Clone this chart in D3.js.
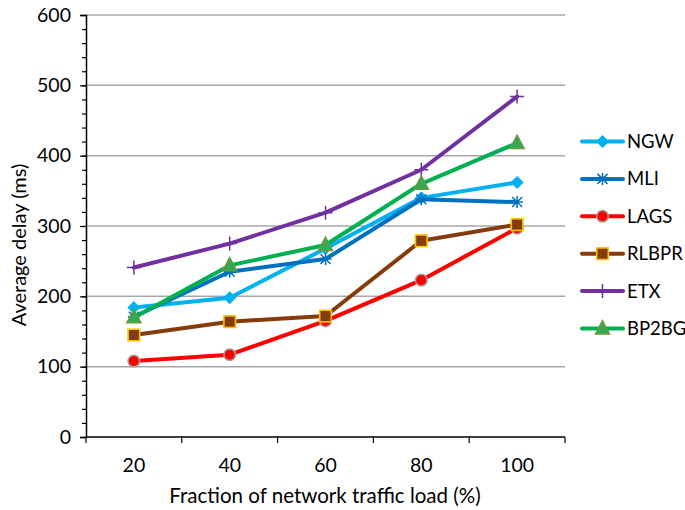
<!DOCTYPE html>
<html>
<head>
<meta charset="utf-8">
<script src="https://cdn.jsdelivr.net/npm/d3@7"></script>
<style>
  html, body { margin: 0; padding: 0; background: #fff; }
  svg text { font-family: Lato, "Open Sans", sans-serif; fill: #000; }
</style>
</head>
<body>
<svg id="chart" width="685" height="510"></svg>
<script>
// Traffic load categories (%)
const loads = ["20", "40", "60", "80", "100"];

// Average delay (ms) per routing scheme
const ngw   = [184, 198, 268, 340, 362];
const mli   = [171, 235, 253, 338, 334];
const lags  = [108, 117, 165, 223, 297];
const rlbpr = [145, 164, 172, 279, 302];
const etx   = [241, 275, 319, 380, 484];
const bp2bg = [170, 244, 273, 360, 418];

const yTicks = [0, 100, 200, 300, 400, 500, 600];

const series = [
  { name: "NGW",   values: ngw,   color: "#00B0F0", marker: "diamond" },
  { name: "MLI",   values: mli,   color: "#0070C0", marker: "asterisk" },
  { name: "LAGS",  values: lags,  color: "#FF0000", marker: "circle" },
  { name: "RLBPR", values: rlbpr, color: "#843C0C", marker: "square" },
  { name: "ETX",   values: etx,   color: "#7030A0", marker: "plus" },
  { name: "BP2BG", values: bp2bg, color: "#00B050", marker: "triangle" }
];

const svg = d3.select("#chart");
const plotLeft = 86, plotRight = 565, plotTop = 15, plotBottom = 437;

const x = d3.scaleBand().domain(loads).range([plotLeft, plotRight]).padding(0);
const y = d3.scaleLinear().domain([0, 600]).range([plotBottom, plotTop]);

// Horizontal gridlines
svg.append("g")
  .selectAll("line")
  .data(yTicks.filter(v => v > 0))
  .join("line")
  .attr("x1", plotLeft).attr("x2", plotRight)
  .attr("y1", d => y(d)).attr("y2", d => y(d))
  .attr("stroke", "#A6A6A6").attr("stroke-width", 1.5);

// Y axis with minor ticks every 20
const yMinor = d3.axisLeft(y).tickValues(d3.range(0, 601, 20)).tickSize(4).tickFormat("");
svg.append("g").attr("transform", `translate(${plotLeft},0)`).call(yMinor)
  .call(g => g.select(".domain").remove())
  .call(g => g.selectAll("line").attr("stroke", "#000").attr("stroke-width", 1.2));

const yAxis = d3.axisLeft(y).tickValues(yTicks).tickSize(6).tickPadding(9);
svg.append("g").attr("transform", `translate(${plotLeft},0)`).call(yAxis)
  .call(g => g.select(".domain").attr("stroke", "#000").attr("stroke-width", 1.5))
  .call(g => g.selectAll("line").attr("stroke", "#000").attr("stroke-width", 1.2))
  .call(g => g.selectAll("text").attr("font-size", 19.5).attr("fill", "#111")
    .attr("font-family", "Lato, 'Open Sans', sans-serif"));

// X axis: ticks at band boundaries, labels at band centres
svg.append("line")
  .attr("x1", plotLeft).attr("x2", plotRight).attr("y1", plotBottom).attr("y2", plotBottom)
  .attr("stroke", "#000").attr("stroke-width", 1.5);
const bounds = loads.map(d => x(d)).concat([x(loads[loads.length - 1]) + x.bandwidth()]);
svg.append("g").selectAll("line").data(bounds).join("line")
  .attr("x1", d => d).attr("x2", d => d)
  .attr("y1", plotBottom).attr("y2", plotBottom + 6)
  .attr("stroke", "#000").attr("stroke-width", 1.2);
svg.append("g").selectAll("text").data(loads).join("text")
  .attr("x", d => x(d) + x.bandwidth() / 2)
  .attr("y", 472)
  .attr("text-anchor", "middle")
  .attr("font-size", 19.5)
  .text(d => d);

// Axis titles
svg.append("text")
  .attr("x", 325).attr("y", 503)
  .attr("text-anchor", "middle")
  .attr("font-size", 20.5)
  .text("Fraction of network traffic load (%)");
svg.append("text")
  .attr("transform", "translate(26,245) rotate(-90)")
  .attr("text-anchor", "middle")
  .attr("font-size", 20)
  .text("Average delay (ms)");

// Marker drawing
function drawMarker(g, type, color) {
  switch (type) {
    case "diamond":
      g.append("path").attr("d", "M0,-6L6,0L0,6L-6,0Z").attr("fill", color).attr("stroke", color).attr("stroke-width", 1);
      break;
    case "circle":
      g.append("circle").attr("r", 5.8).attr("fill", "#FF0000").attr("stroke", "#A0A0A0").attr("stroke-width", 1.5);
      break;
    case "square":
      g.append("rect").attr("x", -5.8).attr("y", -5.8).attr("width", 11.6).attr("height", 11.6)
        .attr("fill", "#843C0C").attr("stroke", "#FFC000").attr("stroke-width", 1.6);
      break;
    case "triangle":
      g.append("path").attr("d", "M0,-8L7.2,5.5L-7.2,5.5Z").attr("fill", "#34A853").attr("stroke", "#6B9A3A").attr("stroke-width", 1.3);
      break;
    case "asterisk":
      g.append("path").attr("d", "M0,-6L0,6M-5,-5L5,5M-5,5L5,-5M-6,0L6,0")
        .attr("stroke", color).attr("stroke-width", 1.5).attr("fill", "none");
      break;
    case "plus":
      g.append("path").attr("d", "M0,-7L0,7M-7,0L7,0")
        .attr("stroke", color).attr("stroke-width", 1.5).attr("fill", "none");
      break;
  }
}

// Series lines and markers
const line = d3.line()
  .x((d, i) => x(loads[i]) + x.bandwidth() / 2)
  .y(d => y(d));

series.forEach(s => {
  const g = svg.append("g");
  g.append("path").datum(s.values)
    .attr("d", line)
    .attr("fill", "none")
    .attr("stroke", s.color)
    .attr("stroke-width", 4)
    .attr("stroke-linejoin", "round")
    .attr("stroke-linecap", "round");
  s.values.forEach((v, i) => {
    const m = g.append("g").attr("transform", `translate(${x(loads[i]) + x.bandwidth() / 2},${y(v)})`);
    drawMarker(m, s.marker, s.color);
  });
});

// Legend
const legend = svg.append("g");
series.forEach((s, i) => {
  const ly = 141.5 + i * 37.4;
  const row = legend.append("g").attr("transform", `translate(0,${ly})`);
  row.append("line").attr("x1", 582).attr("x2", 623).attr("y1", 0).attr("y2", 0)
    .attr("stroke", s.color).attr("stroke-width", 4).attr("stroke-linecap", "round");
  const m = row.append("g").attr("transform", "translate(602.5,0)");
  drawMarker(m, s.marker, s.color);
  row.append("text").attr("x", 627).attr("y", 6.5)
    .attr("font-size", 18.5)
    .text(s.name);
});
</script>
</body>
</html>
